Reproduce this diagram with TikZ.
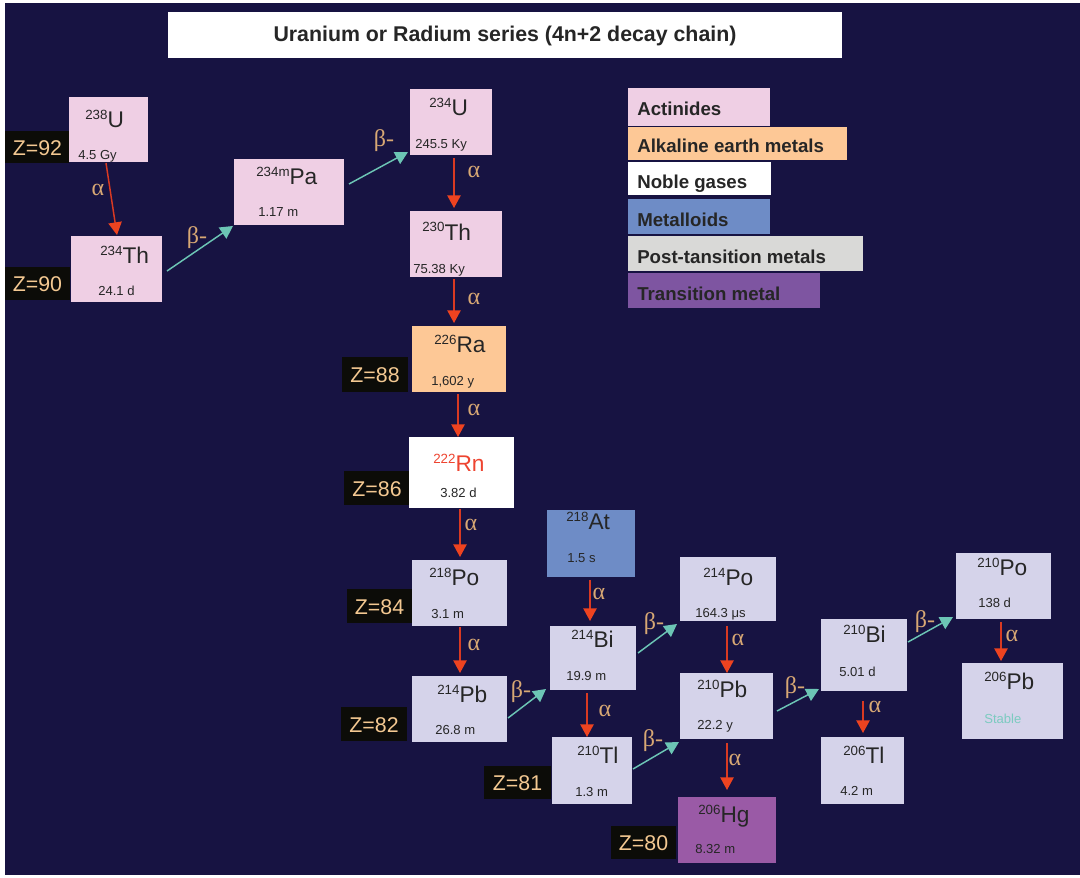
\documentclass[tikz,border=0pt]{standalone}
\usepackage{fontspec}
\setmainfont{Liberation Sans}
\newfontfamily\grkfont{Liberation Serif}
\usetikzlibrary{arrows.meta,fit,calc}
\definecolor{navy}{HTML}{171342}
\definecolor{pinkc}{HTML}{EFCFE4}
\definecolor{orangec}{HTML}{FDC896}
\definecolor{lavc}{HTML}{D5D3EA}
\definecolor{bluec}{HTML}{6E8CC6}
\definecolor{grayc}{HTML}{D9D9D7}
\definecolor{purplec}{HTML}{7E55A1}
\definecolor{hgc}{HTML}{9A5AA6}
\definecolor{zblack}{HTML}{0C0C08}
\definecolor{ztext}{HTML}{F4C992}
\definecolor{grk}{HTML}{D8A874}
\definecolor{aline}{HTML}{D93A22}
\definecolor{ahead}{HTML}{EE4320}
\definecolor{bline}{HTML}{6CC5B5}
\definecolor{dtext}{HTML}{262626}
\definecolor{rntext}{HTML}{EE4430}
\definecolor{stabc}{HTML}{7CCBC0}
\newcommand\isolab[2]{\raisebox{6pt}{\fontsize{10}{12}\selectfont #1}#2}
\tikzset{
  nbox/.style={inner sep=0pt, outer sep=0pt, draw=none},
  zbox/.style={inner sep=0pt, outer sep=0pt, fill=zblack},
  ztxt/.style={inner sep=0pt, text=ztext, font=\fontsize{16}{19}\selectfont},
  lab/.style={inner sep=0pt, anchor=base west, text=dtext, font=\fontsize{17}{20}\selectfont},
  hl/.style={inner sep=0pt, anchor=base west, text=dtext, font=\fontsize{9.8}{12}\selectfont},
  gk/.style={inner sep=0pt, text=grk, font=\grkfont\fontsize{18}{21}\selectfont},
  leg/.style={inner sep=0pt, anchor=base west, text=dtext, font=\bfseries\fontsize{14}{17}\selectfont},
  aconn/.style={draw=aline, line width=1.1pt, -{Triangle[length=9.5pt,width=10pt,color=ahead]}},
  bconn/.style={draw=bline, line width=1.1pt, -{Triangle[length=9.5pt,width=10pt,color=bline]}},
}
\begin{document}
\begin{tikzpicture}[x=0.75pt,y=-0.75pt]
\useasboundingbox (0,0) rectangle (1080,877);
\fill[white] (0,0) rectangle (1080,877);
\fill[navy] (5,3) rectangle (1080,875);

% title
\node[nbox, fill=white, fit={(168,12) (842,58)}] (titlebox) {};
\node[inner sep=0pt, text=dtext, font=\bfseries\fontsize{16}{19}\selectfont] (title) at (505,35.5) {Uranium or Radium series (4n+2 decay chain)};

% legend
\node[nbox, fill=pinkc, fit={(628,88) (770,126)}] (lg1) {};
\node[nbox, fill=orangec, fit={(628,127) (847,160)}] (lg2) {};
\node[nbox, fill=white, fit={(628,162) (771,195)}] (lg3) {};
\node[nbox, fill=bluec, fit={(628,199) (770,234)}] (lg4) {};
\node[nbox, fill=grayc, fit={(628,236) (863,271)}] (lg5) {};
\node[nbox, fill=purplec, fit={(628,273) (820,308)}] (lg6) {};
\node[leg] (lt1) at (637,116) {Actinides};
\node[leg] (lt2) at (637,153) {Alkaline earth metals};
\node[leg] (lt3) at (637,189) {Noble gases};
\node[leg] (lt4) at (637,227) {Metalloids};
\node[leg] (lt5) at (637,263) {Post-tansition metals};
\node[leg] (lt6) at (637,300) {Transition metal};

% Z boxes
\node[zbox, fit={(5,131) (69,163)}] (z92) {};
\node[zbox, fit={(5,267) (70,300)}] (z90) {};
\node[zbox, fit={(342,357) (408,392)}] (z88) {};
\node[zbox, fit={(344,471) (410,505)}] (z86) {};
\node[zbox, fit={(347,589) (412,623)}] (z84) {};
\node[zbox, fit={(341,707) (407,741)}] (z82) {};
\node[zbox, fit={(484,766) (551,799)}] (z81) {};
\node[zbox, fit={(611,826) (676,859)}] (z80) {};
\node[ztxt] (z92t) at ($(z92.center)+(0.5,1.5)$) {Z=92};
\node[ztxt] (z90t) at ($(z90.center)+(0,1)$) {Z=90};
\node[ztxt] (z88t) at ($(z88.center)+(0,1)$) {Z=88};
\node[ztxt] (z86t) at ($(z86.center)+(0,1)$) {Z=86};
\node[ztxt] (z84t) at ($(z84.center)+(0,1)$) {Z=84};
\node[ztxt] (z82t) at ($(z82.center)+(0,1)$) {Z=82};
\node[ztxt] (z81t) at ($(z81.center)+(0,1)$) {Z=81};
\node[ztxt] (z80t) at ($(z80.center)+(0,1)$) {Z=80};

% nuclide boxes
\node[nbox, fill=pinkc, fit={(69,97) (148,162)}] (u238) {};
\node[nbox, fill=pinkc, fit={(71,236) (162,302)}] (th234) {};
\node[nbox, fill=pinkc, fit={(234,159) (344,225)}] (pa234) {};
\node[nbox, fill=pinkc, fit={(410,89) (492,155)}] (u234) {};
\node[nbox, fill=pinkc, fit={(410,211) (502,277)}] (th230) {};
\node[nbox, fill=orangec, fit={(412,326) (506,392)}] (ra226) {};
\node[nbox, fill=white, fit={(409,437) (514,508)}] (rn222) {};
\node[nbox, fill=lavc, fit={(412,560) (507,626)}] (po218) {};
\node[nbox, fill=bluec, fit={(547,510) (635,577)}] (at218) {};
\node[nbox, fill=lavc, fit={(550,626) (636,690)}] (bi214) {};
\node[nbox, fill=lavc, fit={(412,676) (507,742)}] (pb214) {};
\node[nbox, fill=lavc, fit={(680,557) (776,621)}] (po214) {};
\node[nbox, fill=lavc, fit={(552,737) (632,804)}] (tl210) {};
\node[nbox, fill=lavc, fit={(680,673) (773,739)}] (pb210) {};
\node[nbox, fill=hgc, fit={(678,797) (776,863)}] (hg206) {};
\node[nbox, fill=lavc, fit={(821,619) (907,691)}] (bi210) {};
\node[nbox, fill=lavc, fit={(821,737) (904,804)}] (tl206) {};
\node[nbox, fill=lavc, fit={(956,553) (1051,619)}] (po210) {};
\node[nbox, fill=lavc, fit={(962,663) (1063,739)}] (pb206) {};

% nuclide labels
\node[lab] (u238n) at (85,128) {\isolab{238}{U}};
\node[hl] (u238h) at (78,160) {4.5 Gy};
\node[lab] (th234n) at (100,263) {\isolab{234}{Th}};
\node[hl] (th234h) at (98,295) {24.1 d};
\node[lab] (pa234n) at (256,185) {\isolab{234m}{Pa}};
\node[hl] (pa234h) at (258,217) {1.17 m};
\node[lab] (u234n) at (429,116) {\isolab{234}{U}};
\node[hl] (u234h) at (415,149) {245.5 Ky};
\node[lab] (th230n) at (422,240) {\isolab{230}{Th}};
\node[hl] (th230h) at (413,273) {75.38 Ky};
\node[lab] (ra226n) at (434,352) {\isolab{226}{Ra}};
\node[hl] (ra226h) at (431,385) {1,602 y};
\node[lab, text=rntext] (rn222n) at (433,471) {\isolab{222}{Rn}};
\node[hl] (rn222h) at (440,497) {3.82 d};
\node[lab] (po218n) at (429,585) {\isolab{218}{Po}};
\node[hl] (po218h) at (431,618) {3.1 m};
\node[lab] (at218n) at (566,529) {\isolab{218}{At}};
\node[hl] (at218h) at (567,562) {1.5 s};
\node[lab] (bi214n) at (571,647) {\isolab{214}{Bi}};
\node[hl] (bi214h) at (566,680) {19.9 m};
\node[lab] (pb214n) at (437,702) {\isolab{214}{Pb}};
\node[hl] (pb214h) at (435,734) {26.8 m};
\node[lab] (po214n) at (703,585) {\isolab{214}{Po}};
\node[hl] (po214h) at (695,617) {164.3 μs};
\node[lab] (tl210n) at (577,763) {\isolab{210}{Tl}};
\node[hl] (tl210h) at (575,796) {1.3 m};
\node[lab] (pb210n) at (697,697) {\isolab{210}{Pb}};
\node[hl] (pb210h) at (697,729) {22.2 y};
\node[lab] (hg206n) at (698,822) {\isolab{206}{Hg}};
\node[hl] (hg206h) at (695,853) {8.32 m};
\node[lab] (bi210n) at (843,642) {\isolab{210}{Bi}};
\node[hl] (bi210h) at (839,676) {5.01 d};
\node[lab] (tl206n) at (843,763) {\isolab{206}{Tl}};
\node[hl] (tl206h) at (840,795) {4.2 m};
\node[lab] (po210n) at (977,575) {\isolab{210}{Po}};
\node[hl] (po210h) at (978,607) {138 d};
\node[lab] (pb206n) at (984,689) {\isolab{206}{Pb}};
\node[hl, text=stabc] (pb206h) at (984,723) {Stable};

% alpha decays
\draw[aconn] ($(u238.south)+(-2.5,1)$) -- ($(th234.north)+(0.5,-1)$);
\draw[aconn] ($(u234.south)+(3,3)$) -- ($(th230.north)+(-2,-3)$);
\draw[aconn] ($(th230.south)+(-2,2)$) -- ($(ra226.north)+(-5,-3)$);
\draw[aconn] ($(ra226.south)+(-1,2)$) -- ($(rn222.north)+(-3.5,0)$);
\draw[aconn] ($(rn222.south)+(-1.5,1)$) -- ($(po218.north)+(0.5,-3)$);
\draw[aconn] ($(po218.south)+(0.5,1)$) -- ($(pb214.north)+(0.5,-3)$);
\draw[aconn] ($(at218.south)+(-1,3)$) -- ($(bi214.north)+(-3,-5)$);
\draw[aconn] ($(bi214.south)+(-6,3)$) -- ($(tl210.north)+(-5,0)$);
\draw[aconn] ($(po214.south)+(-1,5)$) -- ($(pb210.north)+(0.5,0)$);
\draw[aconn] ($(pb210.south)+(0.5,4)$) -- ($(hg206.north)+(0,-7)$);
\draw[aconn] ($(bi210.south)+(-1,10)$) -- ($(tl206.north)+(0.5,-4)$);
\draw[aconn] ($(po210.south)+(-2.5,3)$) -- ($(pb206.north)+(-11.5,-2)$);

% beta decays
\draw[bconn] ($(th234.east)+(5,2)$) -- ($(pa234.south west)+(-1,1)$);
\draw[bconn] ($(pa234.east)+(5,-8)$) -- ($(u234.south west)+(-2,-3)$);
\draw[bconn] ($(pb214.east)+(1,9)$) -- ($(bi214.south west)+(-4,-1)$);
\draw[bconn] ($(bi214.east)+(2,-5)$) -- ($(po214.south west)+(-3,3)$);
\draw[bconn] ($(tl210.east)+(1,-1.5)$) -- ($(pb210.south west)+(-1,3)$);
\draw[bconn] ($(pb210.east)+(4,5)$) -- ($(bi210.south west)+(-2,-2)$);
\draw[bconn] ($(bi210.east)+(1,-13)$) -- ($(po210.south west)+(-3,-2)$);

% decay labels
\node[gk] (ga1) at (98,190) {α};
\node[gk] (ga2) at (474,172) {α};
\node[gk] (ga3) at (474,299) {α};
\node[gk] (ga4) at (474,410) {α};
\node[gk] (ga5) at (471,525) {α};
\node[gk] (ga6) at (474,645) {α};
\node[gk] (ga7) at (599,594) {α};
\node[gk] (ga8) at (605,711) {α};
\node[gk] (ga9) at (738,640) {α};
\node[gk] (ga10) at (735,760) {α};
\node[gk] (ga11) at (875,707) {α};
\node[gk] (ga12) at (1012,636) {α};
\node[gk] (gb1) at (197,238) {β-};
\node[gk] (gb2) at (384,141) {β-};
\node[gk] (gb3) at (521,692) {β-};
\node[gk] (gb4) at (654,624) {β-};
\node[gk] (gb5) at (653,741) {β-};
\node[gk] (gb6) at (795,688) {β-};
\node[gk] (gb7) at (925,622) {β-};
\end{tikzpicture}
\end{document}
